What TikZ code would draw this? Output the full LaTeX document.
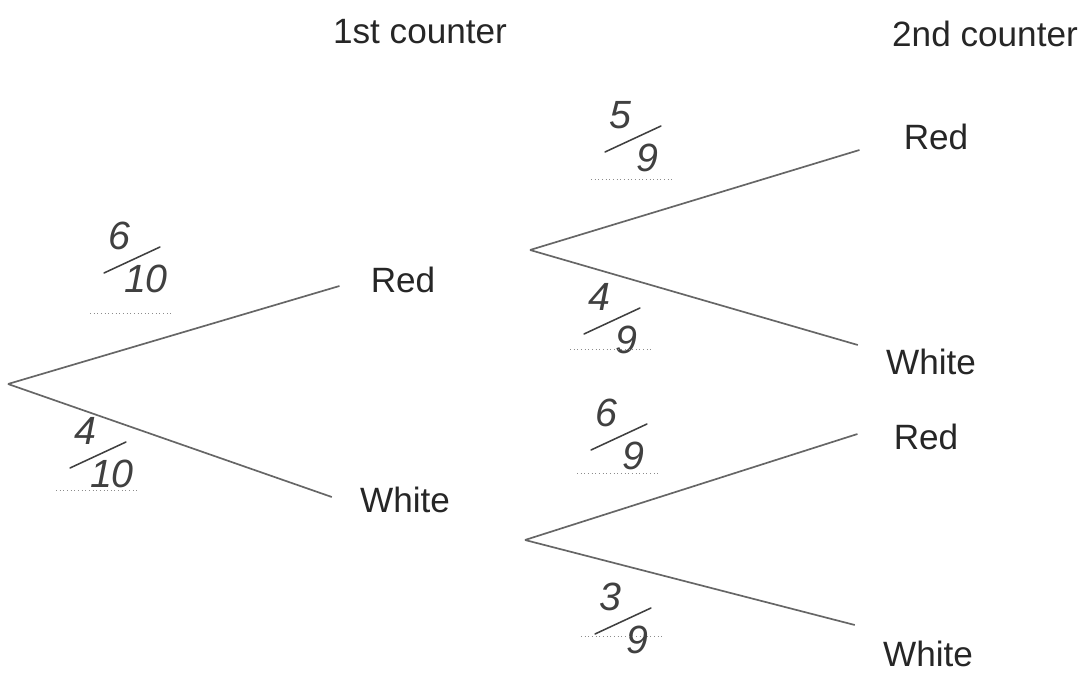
\documentclass[tikz,border=0pt]{standalone}
\usepackage{fontspec}
\setmainfont{Liberation Sans}
\usepackage{tikz}
\usetikzlibrary{calc}

% handwritten fraction: centre, name, numerator, denominator, answer line offset
\newcommand\handfrac[5]{%
  \coordinate (#2) at (#1);
  \node [hand] (#2n) at ($(#2)+(-13,-24)$) {#3};
  \node [hand] (#2d) at ($(#2)+(14,19)$) {#4};
  \draw [slash] ($(#2)+(-28,13)$) -- ($(#2)+(28,-13)$);
  \draw [answer] ($(#2)+(-42,#5)$) -- ($(#2)+(40,#5)$);
}

\begin{document}
\begin{tikzpicture}[
    x=0.025cm, y=-0.025cm,
    lbl/.style={inner sep=0pt, font=\fontsize{25}{30}\selectfont, text=black!85},
    hand/.style={inner sep=0pt, font=\fontsize{28}{32}\selectfont\itshape, text=black!75},
    slash/.style={line width=1.1pt, draw=black!75, line cap=round},
    answer/.style={dotted, line width=0.6pt, draw=black!45},
    branch/.style={line width=1.2pt, draw=black!60}
]
    \useasboundingbox (0,0) rectangle (1087,674);

    % headings
    \node [lbl] (head1) at (420,32) {1st counter};
    \node [lbl] (head2) at (985,34) {2nd counter};

    % outcomes
    \node [lbl] (red1) at (403,280) {Red};
    \node [lbl] (white1) at (405,500) {White};
    \node [lbl] (red2) at (936,137) {Red};
    \node [lbl] (white2) at (931,362) {White};
    \node [lbl] (red3) at (926,437) {Red};
    \node [lbl] (white3) at (928,654) {White};

    % fork points
    \coordinate (root) at (8,384);
    \coordinate (fork1) at (530,250);
    \coordinate (fork2) at (525,540);

    \draw [branch] (root) -- ($(red1.west)+(-31,6)$);
    \draw [branch] (root) -- ($(white1.west)+(-28,-3)$);
    \draw [branch] (fork1) -- ($(red2.west)+(-44,13)$);
    \draw [branch] (fork1) -- ($(white2.west)+(-28,-17)$);
    \draw [branch] (fork2) -- ($(red3.west)+(-36,-3)$);
    \draw [branch] (fork2) -- ($(white3.west)+(-28,-29)$);

    % probabilities
    \handfrac{132,260}{p1}{6}{10}{53}
    \handfrac{98,455}{p2}{4}{10}{35}
    \handfrac{633,139}{p3}{5}{9}{40}
    \handfrac{612,321}{p4}{4}{9}{28}
    \handfrac{619,437}{p5}{6}{9}{36}
    \handfrac{623,621}{p6}{3}{9}{15}
\end{tikzpicture}
\end{document}
